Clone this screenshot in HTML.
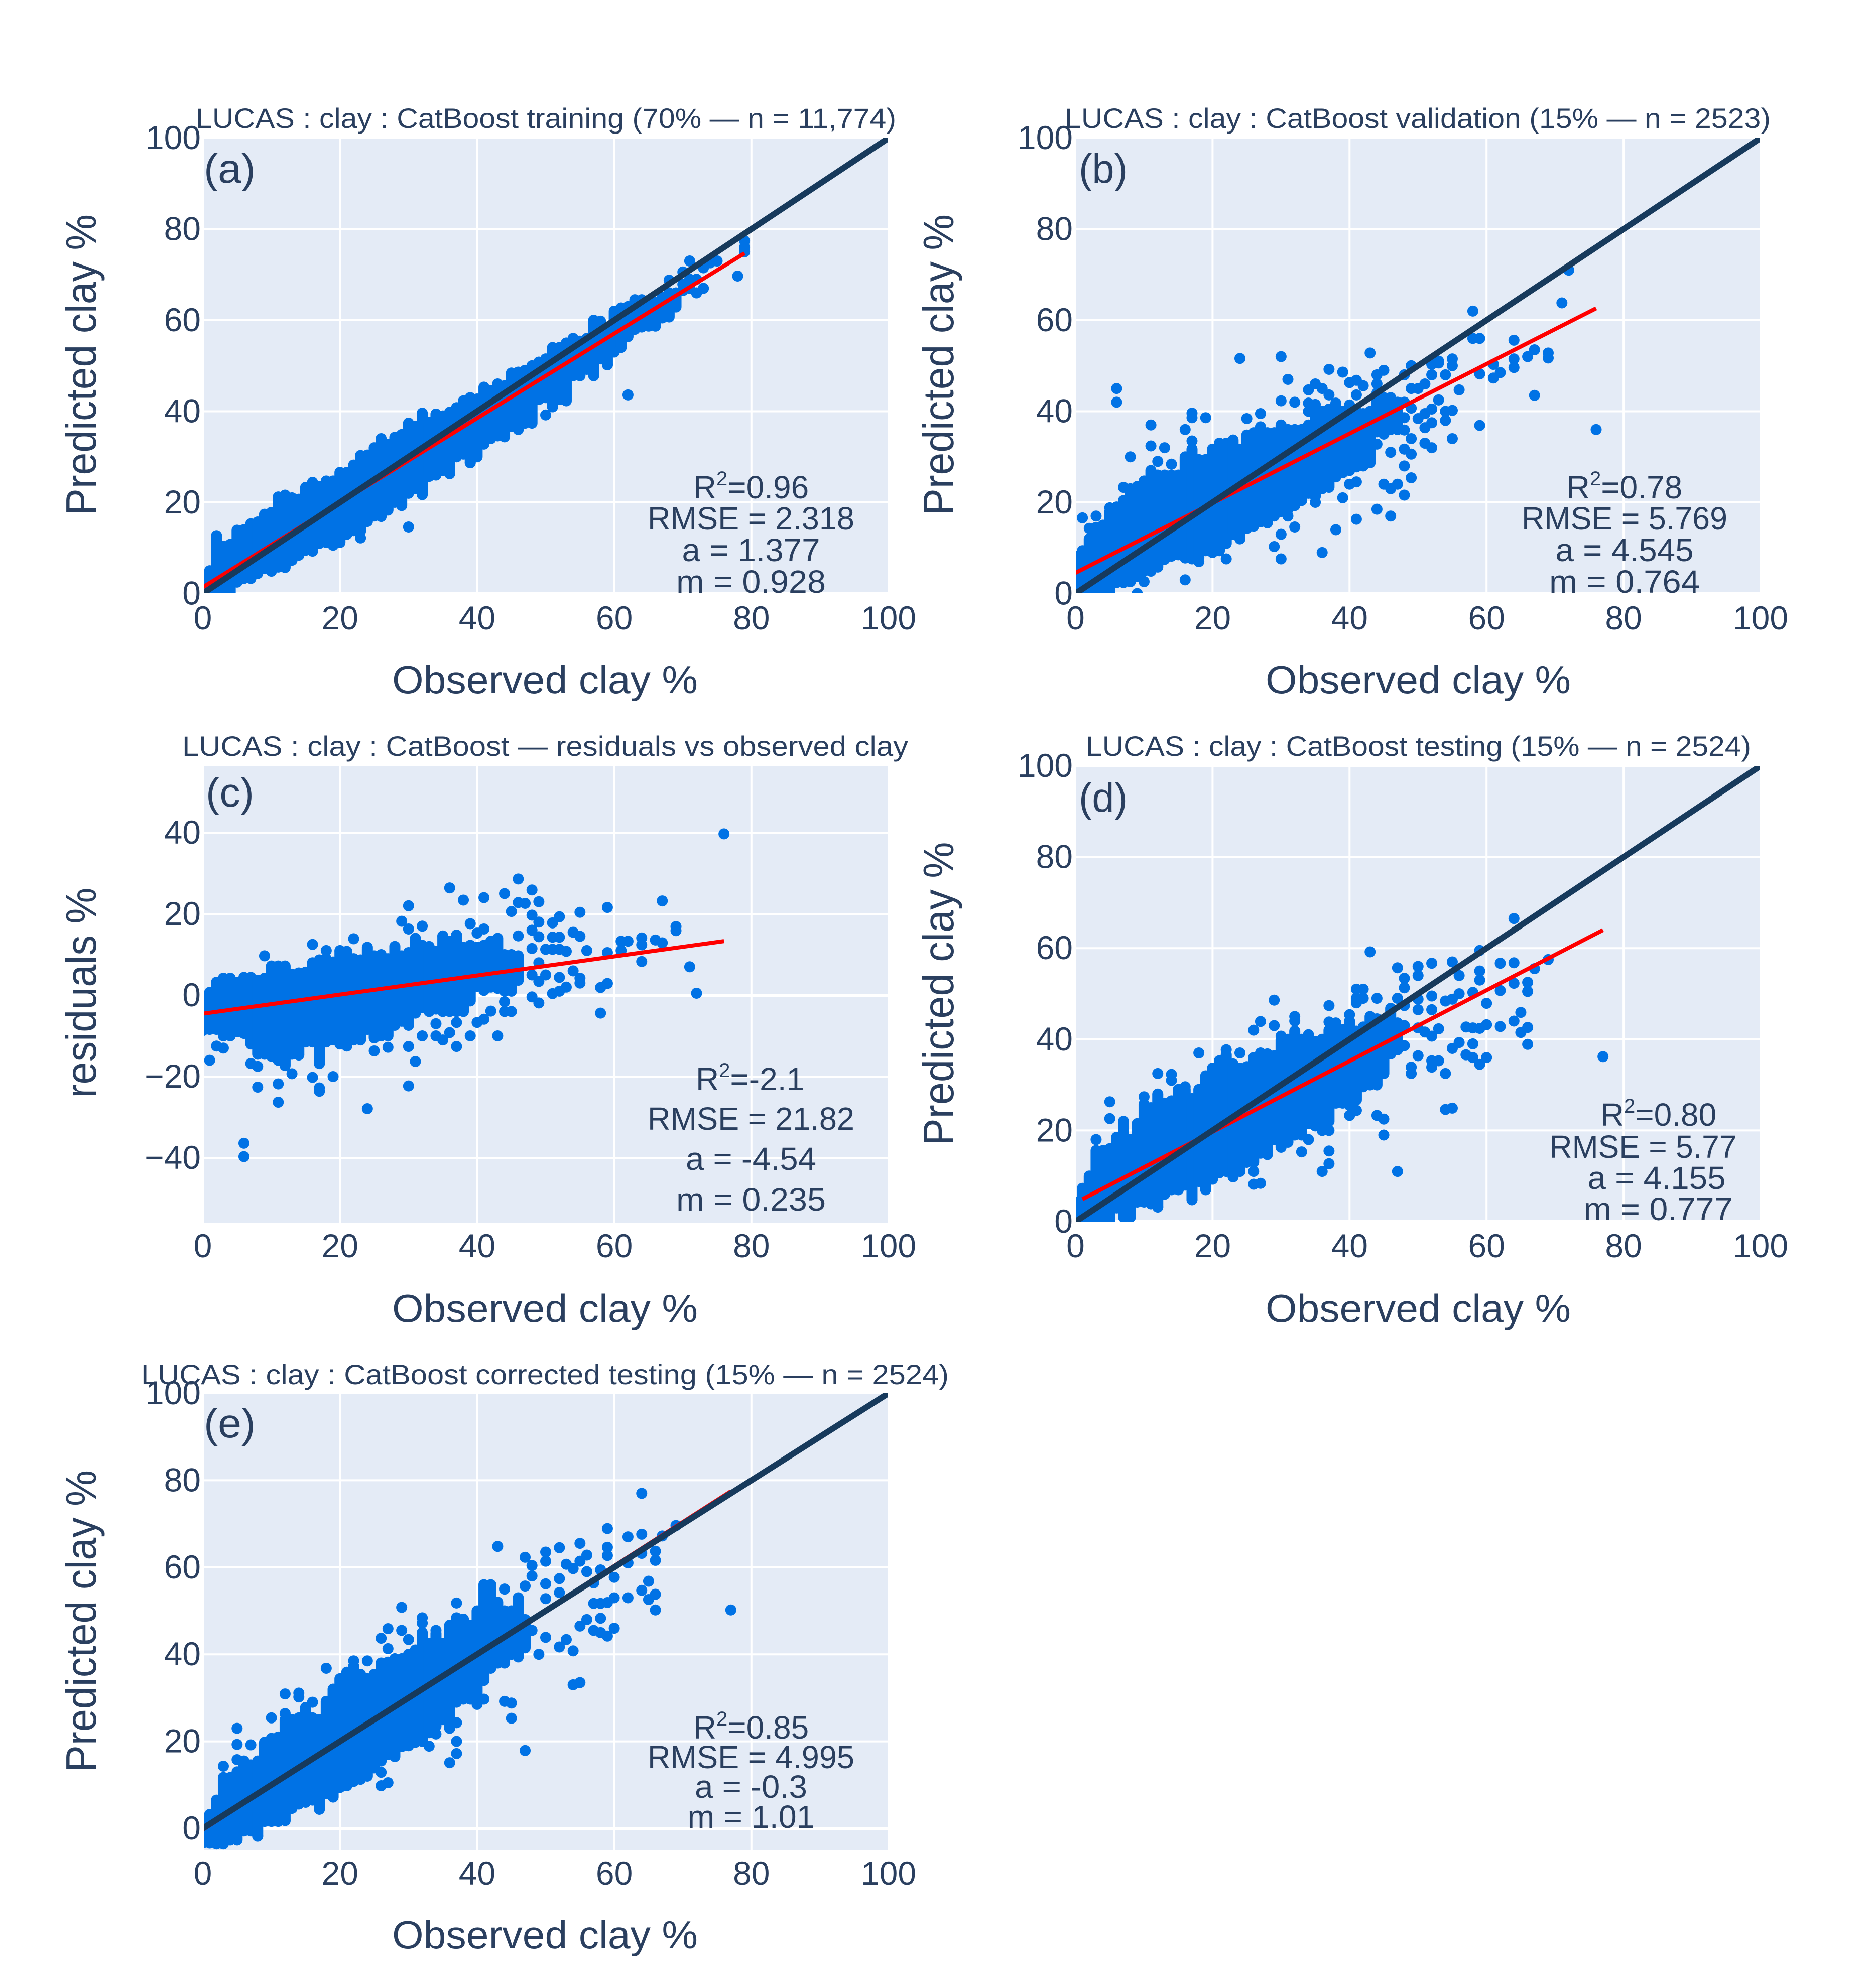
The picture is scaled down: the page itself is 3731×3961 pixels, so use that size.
<!DOCTYPE html>
<html lang="en">
<head>
<meta charset="utf-8">
<title>LUCAS clay CatBoost scatter panels</title>
<style>
html,body{margin:0;padding:0;background:#fff;}
svg{display:block;}
text{font-family:"Liberation Sans",sans-serif;fill:#2a3f5f;}
.title{font-size:56px;}
.axis{font-size:78px;}
.ytitle{font-size:85px;}
.tick{font-size:66px;}
.letter{font-size:82px;}
.stat{font-size:64px;text-anchor:middle;}
.sup{font-size:40px;}
</style>
</head>
<body>
<svg id="figure" xmlns="http://www.w3.org/2000/svg" width="3731" height="3961" viewBox="0 0 3731 3961">
<rect x="0" y="0" width="3731" height="3961" fill="#ffffff"/>
<g id="plots"></g>

<g>
<text class="title" x="390" y="255" textLength="1395" lengthAdjust="spacingAndGlyphs">LUCAS : clay : CatBoost training (70% — n = 11,774)</text>
<text class="axis" x="781" y="1381" textLength="609" lengthAdjust="spacingAndGlyphs">Observed clay %</text>
<text class="ytitle" x="191" y="727" text-anchor="middle" transform="rotate(-90 191 727)" textLength="600" lengthAdjust="spacingAndGlyphs">Predicted clay %</text>
<text class="letter" x="406" y="364" textLength="103" lengthAdjust="spacingAndGlyphs">(a)</text>
<text class="stat" x="1496" y="993">R<tspan class="sup" dy="-26">2</tspan><tspan dy="26">=0.96</tspan></text>
<text class="stat" x="1496" y="1055" textLength="412" lengthAdjust="spacingAndGlyphs">RMSE = 2.318</text>
<text class="stat" x="1496" y="1118" textLength="275" lengthAdjust="spacingAndGlyphs">a = 1.377</text>
<text class="stat" x="1496" y="1181" textLength="298" lengthAdjust="spacingAndGlyphs">m = 0.928</text>
</g>

<g>
<text class="title" x="2121" y="255" textLength="1406" lengthAdjust="spacingAndGlyphs">LUCAS : clay : CatBoost validation (15% — n = 2523)</text>
<text class="axis" x="2521" y="1381" textLength="608" lengthAdjust="spacingAndGlyphs">Observed clay %</text>
<text class="ytitle" x="1899" y="727" text-anchor="middle" transform="rotate(-90 1899 727)" textLength="600" lengthAdjust="spacingAndGlyphs">Predicted clay %</text>
<text class="letter" x="2149" y="364" textLength="97" lengthAdjust="spacingAndGlyphs">(b)</text>
<text class="stat" x="3236" y="993">R<tspan class="sup" dy="-26">2</tspan><tspan dy="26">=0.78</tspan></text>
<text class="stat" x="3236" y="1055" textLength="410" lengthAdjust="spacingAndGlyphs">RMSE = 5.769</text>
<text class="stat" x="3236" y="1118" textLength="275" lengthAdjust="spacingAndGlyphs">a = 4.545</text>
<text class="stat" x="3236" y="1181" textLength="300" lengthAdjust="spacingAndGlyphs">m = 0.764</text>
</g>

<g>
<text class="title" x="363" y="1506" textLength="1446" lengthAdjust="spacingAndGlyphs">LUCAS : clay : CatBoost — residuals vs observed clay</text>
<text class="axis" x="781" y="2634" textLength="609" lengthAdjust="spacingAndGlyphs">Observed clay %</text>
<text class="ytitle" x="191" y="1978" text-anchor="middle" transform="rotate(-90 191 1978)" textLength="419" lengthAdjust="spacingAndGlyphs">residuals %</text>
<text class="letter" x="410" y="1607" textLength="96" lengthAdjust="spacingAndGlyphs">(c)</text>
<text class="stat" x="1494" y="2172">R<tspan class="sup" dy="-26">2</tspan><tspan dy="26">=-2.1</tspan></text>
<text class="stat" x="1496" y="2251" textLength="412" lengthAdjust="spacingAndGlyphs">RMSE = 21.82</text>
<text class="stat" x="1496" y="2331" textLength="260" lengthAdjust="spacingAndGlyphs">a = -4.54</text>
<text class="stat" x="1496" y="2412" textLength="298" lengthAdjust="spacingAndGlyphs">m = 0.235</text>
</g>

<g>
<text class="title" x="2163" y="1506" textLength="1325" lengthAdjust="spacingAndGlyphs">LUCAS : clay : CatBoost testing (15% — n = 2524)</text>
<text class="axis" x="2521" y="2634" textLength="608" lengthAdjust="spacingAndGlyphs">Observed clay %</text>
<text class="ytitle" x="1899" y="1980" text-anchor="middle" transform="rotate(-90 1899 1980)" textLength="605" lengthAdjust="spacingAndGlyphs">Predicted clay %</text>
<text class="letter" x="2149" y="1617" textLength="97" lengthAdjust="spacingAndGlyphs">(d)</text>
<text class="stat" x="3304" y="2243">R<tspan class="sup" dy="-26">2</tspan><tspan dy="26">=0.80</tspan></text>
<text class="stat" x="3273" y="2307" textLength="373" lengthAdjust="spacingAndGlyphs">RMSE = 5.77</text>
<text class="stat" x="3300" y="2369" textLength="275" lengthAdjust="spacingAndGlyphs">a = 4.155</text>
<text class="stat" x="3303" y="2431" textLength="297" lengthAdjust="spacingAndGlyphs">m = 0.777</text>
</g>

<g>
<text class="title" x="281" y="2758" textLength="1609" lengthAdjust="spacingAndGlyphs">LUCAS : clay : CatBoost corrected testing (15% — n = 2524)</text>
<text class="axis" x="781" y="3882" textLength="609" lengthAdjust="spacingAndGlyphs">Observed clay %</text>
<text class="ytitle" x="191" y="3230" text-anchor="middle" transform="rotate(-90 191 3230)" textLength="602" lengthAdjust="spacingAndGlyphs">Predicted clay %</text>
<text class="letter" x="406" y="2864" textLength="103" lengthAdjust="spacingAndGlyphs">(e)</text>
<text class="stat" x="1496" y="3464">R<tspan class="sup" dy="-26">2</tspan><tspan dy="26">=0.85</tspan></text>
<text class="stat" x="1496" y="3523" textLength="412" lengthAdjust="spacingAndGlyphs">RMSE = 4.995</text>
<text class="stat" x="1496" y="3582" textLength="224" lengthAdjust="spacingAndGlyphs">a = -0.3</text>
<text class="stat" x="1496" y="3642" textLength="253" lengthAdjust="spacingAndGlyphs">m = 1.01</text>
</g>
</svg>

<script>
// Shared tick values
const xTickValues = [0, 20, 40, 60, 80, 100];
const predictedTickValues = [0, 20, 40, 60, 80, 100];
const residualTickValues = [-40, -20, 0, 20, 40];

// Panel (a) training: dense columns by integer observed clay (index = observed %), then sparse points
const aColumnLow = [0,0,0,0,0,2.5,3.3,3.3,4.4,5.5,4.9,5.8,5.7,7.3,8.4,9.5,9.3,11,11.2,10.6,11.2,13,13.8,13.7,15.8,17,16.9,18.3,20,19.3,22,23,21.7,25.7,26,27,26.3,30,30.6,28.7,30,32.8,34,34.6,34.4,36.7,36,37.4,37.4,42.6,43,41,42.6,42.3,47.8,47.8,49.2,47.8,51.5,50.2,53,54,56.4,58,58.5,58.7,58.7,60.5,60.7,62.9];
const aColumnHigh = [2.7,5,12.7,10.4,10.8,13.9,14,15.3,15.7,17.4,17.8,21.2,21.6,21,20.7,23.3,24.4,23.5,24.7,24.7,26.6,26.6,28.2,30.3,30.4,32,34,32.8,34.3,34.9,37.4,36.7,39.6,37.6,39.4,39,39.8,40.8,42.3,43,42.7,45.3,44.5,46,45.6,48.4,48.6,49,50,50.8,51.5,54,54,55,56,55.4,56,60,59.8,57.5,62,62.7,63,64.5,64.5,64,64,65,66,66];
const aPoints = [[62,43.6],[30,14.6],[23,12.2],[78,69.7],[79,75],[79,76],[79,77.4],[75,73],[74,72.6],[73,71.5],[73,67],[72,66],[72,69],[71,73],[70,70.6],[70,67.9],[68,68.8],[59,50.2],[39,28.7],[50,39.2],[51,41],[70,66.5],[71,67],[71,69]];
const aFit = [1.377, 0.928];
const aFitRange = [0, 79];

// Panel (b) validation
const bColumnLow = [0,0,0,0,0,0,2.4,2.4,2.6,3.7,4.9,4.9,5.8,7.5,8.2,8.5,7.8,7.6,7.8,9.4,9,9.4,11,13,12,14.3,14.8,15.7,15.7,17,18,18.4,19.3,20.4,22,21.3,23,23.3,25.6,26.5,27,27.8,28,28.7,35.5,35,36,36];
const bColumnHigh = [7,9.4,12,14.5,15,18,19,20,23,23.5,24.7,27,26,26,26,26,30,31.7,29.4,29.4,31.7,33,33,33.7,31.7,34.8,35.3,36.6,35.3,35.3,37,36,36,36,37,40,40,40.5,41.6,40,41,40,39.5,40,44,43,43,42];
const bPoints = [[0,8.2],[1,16.6],[3,17],[2,14.3],[5,18.8],[7,23.3],[7,20.4],[6,45],[6,42],[11,37],[11,32.4],[13,32],[8,30],[12,29],[14,28.4],[16,36],[17,39.6],[17,38.6],[19,38.6],[17,33.5],[17,31.5],[24,51.6],[30,52],[31,47],[30,42.3],[32,42],[27,39.5],[25,38.4],[34,44.7],[35,46],[36,45],[37,43.6],[34,41.8],[35,41.5],[34,40],[38,41.8],[37,49.2],[39,48.6],[40,46.3],[41,46.8],[42,45.6],[41,43.6],[40,41.4],[43,52.8],[44,48],[45,49],[44,46],[48,48],[49,50],[49,45],[50,45],[51,46],[52,48],[53,50.6],[54,48],[55,51.5],[55,50],[56,44.7],[53,42.5],[52,40.5],[51,39.5],[50,38.4],[51,36.4],[52,37.5],[54,40],[55,40.2],[54,38],[55,34],[51,33],[52,32],[49,34],[48,38.6],[48,42],[49,40.7],[47,38],[47,36],[48,35.9],[46,39],[46,41],[45,35],[44,32.8],[46,31],[48,31.7],[49,30.6],[48,28],[49,25.4],[45,24],[46,23],[47,24],[48,21.6],[44,18.5],[46,17],[41,16.3],[38,14],[40,24],[41,24.5],[39,21],[36,9],[35,20],[30,7.6],[29,10.3],[30,13],[32,14.6],[31,17],[28,15.5],[24,12],[22,7.6],[18,7],[16,3],[10,2.6],[9,0],[52,50.3],[53,51],[58,62],[58,56],[59,56],[64,55.6],[64,51.5],[64,49.6],[61,50.3],[62,48.5],[61,47.3],[59,48.2],[66,52],[67,53.5],[69,52.8],[69,51.7],[67,43.5],[59,36.9],[76,36],[71,63.8],[72,71]];
const bFit = [4.545, 0.764];
const bFitRange = [0, 76];

// Panel (c) residuals
const cColumnLow = [-5.4,-8.4,-8.4,-10,-10,-9,-9.4,-12,-14.5,-14.5,-15,-16,-17,-14.5,-14.5,-11.5,-11.5,-16.5,-11.5,-11,-12,-12.5,-11,-11,-8.4,-10.5,-10,-10,-7.4,-6.4,-7.4,-4.4,-3,-4,-3.4,-4,-4,-4,-4,-1.4,2.2,1.2,2,1.7,1,1,3.7];
const cColumnHigh = [-0.9,0.7,3.2,4.2,4.2,3.2,4.4,4.4,3.7,4.2,7.2,7.2,7.2,5.2,5.5,5.7,8,8.7,9,8.2,10.8,10.8,9,8.7,11.5,9.7,10,9,12,9.7,10.5,13.8,12.3,12,10.8,14.5,13.3,14.8,11.8,12.3,11.8,12.3,13.3,14,10,10,9.7];
const cPoints = [[76,39.7],[46,28.6],[36,26.4],[48,25.9],[44,25],[41,24],[38,23.4],[46,22.8],[47,22.6],[49,23],[30,22],[45,20.6],[48,19.7],[52,19.3],[55,20.4],[59,21.6],[67,23.2],[49,18],[51,17.8],[29,18.2],[30,16.3],[32,17],[39,17.6],[40,15.3],[41,16.3],[46,14.6],[48,16],[49,14.4],[51,14.3],[52,14.3],[54,15.5],[55,14.5],[35,14.6],[37,14.8],[31,14],[69,16.9],[69,15.9],[61,13.3],[62,13.3],[64,14.1],[64,12.4],[66,13.6],[67,12.9],[56,11],[59,10.5],[61,11],[64,8.3],[71,7],[72,0.5],[59,2.9],[58,1.9],[58,-4.4],[49,8],[48,11.5],[48,5],[49,3.4],[50,5],[52,4.4],[53,2],[51,0.4],[52,1],[50,11.3],[51,11.3],[52,11.3],[53,10.8],[54,6],[55,4.2],[55,3],[49,-1.9],[48,-0.4],[45,-4],[44,-4],[44,-1.6],[42,-3.9],[41,-5.9],[40,-6.7],[37,-6.7],[36,-9.2],[34,-10],[35,-11],[34,-7],[39,-10],[37,-12.6],[43,-10],[32,-10],[30,-12.6],[31,-16.3],[30,-22.3],[27,-12.8],[25,-13.7],[24,-27.9],[6,-36.4],[6,-39.7],[19,-20],[17,-22.8],[17,-23.6],[17,-16.8],[16,-20.2],[11,-21.8],[11,-26.3],[8,-22.6],[8,-17.5],[7,-16.8],[1,-16],[0,-8.7],[14,-14.7],[13,-19.3],[12,-17.3],[2,-12.5],[3,-13],[9,9.7],[16,12.5],[22,13.9],[24,11.8],[18,11],[20,11],[28,12]];
const cFit = [-4.54, 0.235];
const cFitRange = [0, 76];

// Panel (d) testing
const dColumnLow = [0,0,0,0,0,0,3,1,1,4.3,4.3,3.9,3.2,6,7,7,8,4.8,8.8,7,9.3,10.7,11,10.7,11,13,13,15,14.7,18,16.3,17.4,19,19,21.5,21,20,22,26,26,25.5,26.7,29.6,30,30,32.5,36.8,37.7];
const dColumnHigh = [4.3,7.3,10,15.6,15.6,16,18.5,21,18,21.5,25.8,25,27.8,26,26.5,29,29,27,29,32,33.7,35.3,36.6,34.6,33.7,34,36,37,36.8,36.4,40,40,41.8,40,40.7,39.5,40,42,42,40,44,41.8,42.7,45,44.5,44,46.8,43.6];
const dPoints = [[64,66.5],[43,59.2],[59,59.5],[47,55.7],[50,56],[50,54],[52,56.7],[55,57],[48,53.4],[48,51.3],[56,54],[59,55],[59,53],[62,56.7],[64,56.8],[69,57.5],[67,55.5],[66,52.5],[66,50.5],[64,52.3],[62,50.7],[60,47.9],[58,50.3],[56,50],[55,48.8],[52,49.5],[50,48.8],[65,45.9],[64,44],[62,42.8],[60,43.2],[59,42.4],[58,42.5],[57,42.7],[66,42.6],[65,41.5],[66,38.9],[58,39],[56,39.3],[55,38],[60,36],[57,36.6],[58,36],[59,34.5],[53,35.3],[52,35.3],[52,33.9],[54,32.5],[50,36.4],[49,33.9],[49,32.5],[77,36.2],[54,24.6],[55,24.9],[47,11],[44,23.3],[45,22.5],[45,19],[40,23.3],[41,24.4],[37,20],[37,15.5],[37,12.7],[36,11],[34,18],[33,15.3],[26,11],[26,8.2],[27,8.4],[23,9.8],[19,7.3],[17,4.8],[12,3.2],[8,1],[41,51],[42,51],[41,49],[42,49],[41,48],[44,49],[47,49],[48,47.4],[50,46.5],[52,46.5],[54,48.4],[48,43],[48,38.6],[50,42.5],[51,41.6],[52,40.7],[53,42.3],[29,48.6],[37,47.4],[27,43.9],[26,42],[29,43],[32,45],[32,44],[34,41],[30,40.7],[24,37],[22,37.7],[18,37],[12,32.5],[14,32.3],[14,31],[16,29.6],[10,27.4],[12,28],[5,26.3],[5,22.6],[7,22],[3,18],[37,43.8],[38,43.6],[39,42.1],[40,45.4]];
const dFit = [4.155, 0.777];
const dFitRange = [1, 77];

// Panel (e) corrected testing
const eColumnLow = [-3.4,-3.4,-3.6,-3.6,-2.7,-2.7,-0.6,-0.6,-1.8,1.6,1.6,1.6,1.8,4.6,5.6,6,6.5,4.4,8,7.2,9.4,9.8,10.8,11.3,12,13.9,15.5,17,16.5,18.8,19,19.8,20,22,23.5,25,23,29,29.7,29.7,29,34,36.8,38,38,40,39.4,41.5];
const eColumnHigh = [-0.6,3.2,6.5,11.7,11.7,13,15.5,14.6,15.5,19.8,20.7,21,25,25,25.4,27.8,25.4,25,29.2,32,34.4,35.9,37.3,35.4,34.4,35.4,38,38.2,39,39,40,41,45,42.5,44.8,42.5,46.7,47.7,47.7,45.3,50,56,56,52,50,50,53,48];
const ePoints = [[64,77],[59,68.9],[62,67],[64,67.6],[69,69.6],[67,67.2],[43,64.8],[55,65.5],[52,64.5],[50,63.5],[50,61.4],[47,62.3],[48,60.4],[48,58],[53,60.7],[54,59.7],[56,62.8],[55,61.4],[56,59],[57,56.4],[59,64.6],[59,62.7],[62,61],[64,63.2],[66,63.7],[66,61.6],[58,59.4],[60,57.7],[52,57.4],[50,56.2],[47,55.7],[44,55],[52,54.2],[50,52.8],[65,56.8],[66,53.8],[64,54.7],[65,52.6],[66,50.2],[62,53],[60,53],[59,51.9],[58,51.7],[57,51.7],[77,50.2],[56,48],[58,48.3],[55,46.5],[57,45.5],[58,45],[59,44.2],[60,46],[53,43.4],[52,41.7],[50,43.9],[54,40.8],[49,40],[48,45.5],[54,33],[55,33.5],[44,29.2],[45,28.8],[45,25.3],[47,17.9],[40,28.5],[41,29.7],[37,20],[37,17.2],[36,15.1],[33,18.9],[34,21.7],[37,24.3],[26,12.9],[26,9.8],[27,10.5],[23,11.3],[19,7.3],[17,4.4],[12,1.8],[8,-1.8],[5,23],[5,19.3],[7,19.2],[3,14.3],[5,15.8],[10,25.4],[12,30.9],[12,26.4],[14,31.1],[14,30.2],[16,29],[18,36.8],[22,38.5],[24,38.5],[26,43.7],[27,45.9],[29,50.8],[29,45.5],[32,48.4],[32,47.2],[37,51.8],[27,41.3],[30,43.4],[34,45.5],[37,48.4],[38,48.1],[39,46.7]];
const eFit = [-0.3, 1.01];
const eFitRange = [0, 77];

// Layout (pixel geometry only)
const layoutA = {id:'a', left:406, right:1769, top:274, bottom:1182, x0:404, x100:1770, yA:0, pxA:1182.5, yB:100, pxB:275, xLabelY:1254, tickRight:400};
const layoutB = {id:'b', left:2144, right:3506, top:274, bottom:1182, x0:2142.5, x100:3507, yA:0, pxA:1182.5, yB:100, pxB:275, xLabelY:1254, tickRight:2137};
const layoutC = {id:'c', left:406, right:1769, top:1526, bottom:2436, x0:404, x100:1770, yA:-40, pxA:2307, yB:40, pxB:1659, xLabelY:2505, tickRight:400};
const layoutD = {id:'d', left:2144, right:3506, top:1526, bottom:2434, x0:2142.5, x100:3507, yA:0, pxA:2434, yB:100, pxB:1526, xLabelY:2505, tickRight:2137};
const layoutE = {id:'e', left:406, right:1769, top:2776, bottom:3686, x0:404, x100:1770, yA:0, pxA:3643, yB:100, pxB:2776, xLabelY:3755, tickRight:400};

const NS = 'http://www.w3.org/2000/svg';
const plotsRoot = document.getElementById('plots');

function drawPanel(L, yTicks, low, high, points, fit, fitRange, identity) {
  const sx = v => L.x0 + (L.x100 - L.x0) * v / 100;
  const sy = v => L.pxA + (L.pxB - L.pxA) * (v - L.yA) / (L.yB - L.yA);

  const g = document.createElementNS(NS, 'g');
  
  
  plotsRoot.appendChild(g);

  const bg = document.createElementNS(NS, 'rect');
  bg.setAttribute('x', L.left);
  bg.setAttribute('y', L.top);
  bg.setAttribute('width', L.right - L.left);
  bg.setAttribute('height', L.bottom - L.top);
  bg.setAttribute('fill', '#e4ebf6');
  
  
  g.appendChild(bg);

  const clip = document.createElementNS(NS, 'clipPath');
  clip.setAttribute('id', 'clip-' + L.id);
  const clipRect = document.createElementNS(NS, 'rect');
  clipRect.setAttribute('x', L.left);
  clipRect.setAttribute('y', L.top);
  clipRect.setAttribute('width', L.right - L.left);
  clipRect.setAttribute('height', L.bottom - L.top);
  clip.appendChild(clipRect);
  g.appendChild(clip);

  xTickValues.forEach(v => {
    const line = document.createElementNS(NS, 'line');
    line.setAttribute('x1', sx(v));
    line.setAttribute('x2', sx(v));
    line.setAttribute('y1', L.top);
    line.setAttribute('y2', L.bottom);
    line.setAttribute('stroke', '#ffffff');
    line.setAttribute('stroke-width', v === 0 ? 0 : 4);
    
    
    g.appendChild(line);

    const label = document.createElementNS(NS, 'text');
    label.setAttribute('class', 'tick');
    label.setAttribute('x', sx(v));
    label.setAttribute('y', L.xLabelY);
    label.setAttribute('text-anchor', 'middle');
    
    
    label.textContent = String(v);
    g.appendChild(label);
  });

  yTicks.forEach(v => {
    const line = document.createElementNS(NS, 'line');
    line.setAttribute('x1', L.left);
    line.setAttribute('x2', L.right);
    line.setAttribute('y1', sy(v));
    line.setAttribute('y2', sy(v));
    line.setAttribute('stroke', '#ffffff');
    line.setAttribute('stroke-width', v === 0 ? 6 : 4);
    
    
    g.appendChild(line);

    const label = document.createElementNS(NS, 'text');
    label.setAttribute('class', 'tick');
    label.setAttribute('x', L.tickRight);
    label.setAttribute('y', sy(v) + 22);
    label.setAttribute('text-anchor', 'end');
    
    
    label.textContent = String(v).replace('-', '\u2212');
    g.appendChild(label);
  });

  const marks = document.createElementNS(NS, 'g');
  marks.setAttribute('clip-path', 'url(#clip-' + L.id + ')');
  
  
  g.appendChild(marks);

  low.forEach((lo, i) => {
    const col = document.createElementNS(NS, 'line');
    col.setAttribute('x1', sx(i));
    col.setAttribute('x2', sx(i));
    col.setAttribute('y1', sy(lo));
    col.setAttribute('y2', sy(high[i]));
    col.setAttribute('stroke', '#0072e5');
    col.setAttribute('stroke-width', 22);
    col.setAttribute('stroke-linecap', 'round');
    
    
    marks.appendChild(col);
  });

  points.forEach(p => {
    const dot = document.createElementNS(NS, 'circle');
    dot.setAttribute('cx', sx(p[0]));
    dot.setAttribute('cy', sy(p[1]));
    dot.setAttribute('r', 11);
    dot.setAttribute('fill', '#0072e5');
    
    
    marks.appendChild(dot);
  });

  const red = document.createElementNS(NS, 'line');
  red.setAttribute('x1', sx(fitRange[0]));
  red.setAttribute('x2', sx(fitRange[1]));
  red.setAttribute('y1', sy(fit[0] + fit[1] * fitRange[0]));
  red.setAttribute('y2', sy(fit[0] + fit[1] * fitRange[1]));
  red.setAttribute('stroke', '#ff0000');
  red.setAttribute('stroke-width', 8);
  
  
  marks.appendChild(red);

  if (identity) {
    const one = document.createElementNS(NS, 'line');
    one.setAttribute('x1', sx(0));
    one.setAttribute('x2', sx(100));
    one.setAttribute('y1', sy(0));
    one.setAttribute('y2', sy(100));
    one.setAttribute('stroke', '#173a5c');
    one.setAttribute('stroke-width', 12);
    one.setAttribute('stroke-linecap', 'round');
    
    
    marks.appendChild(one);
  }
}

drawPanel(layoutA, predictedTickValues, aColumnLow, aColumnHigh, aPoints, aFit, aFitRange, true);
drawPanel(layoutB, predictedTickValues, bColumnLow, bColumnHigh, bPoints, bFit, bFitRange, true);
drawPanel(layoutC, residualTickValues, cColumnLow, cColumnHigh, cPoints, cFit, cFitRange, false);
drawPanel(layoutD, predictedTickValues, dColumnLow, dColumnHigh, dPoints, dFit, dFitRange, true);
drawPanel(layoutE, predictedTickValues, eColumnLow, eColumnHigh, ePoints, eFit, eFitRange, true);
</script>
</body>
</html>
